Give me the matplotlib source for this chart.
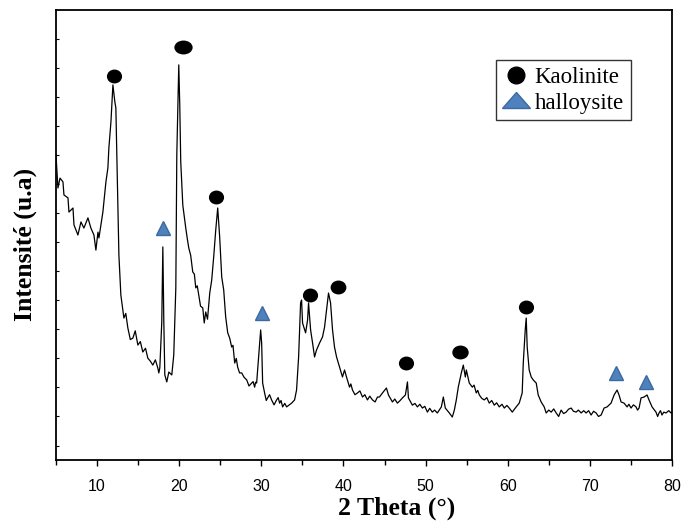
import matplotlib
matplotlib.use("Agg")
import matplotlib.pyplot as plt
from matplotlib.markers import MarkerStyle
from matplotlib.transforms import Affine2D
from matplotlib.lines import Line2D

# XRD pattern (2 theta in degrees, intensity in a.u.)
two_theta = [
    5.00, 5.24, 5.49, 5.85, 5.97, 6.46, 6.58, 7.07, 7.19, 7.67, 8.04, 8.40, 8.89, 9.25, 9.62,
    9.86, 10.11, 10.23, 10.71, 11.08, 11.32, 11.44, 11.69, 11.93, 12.17, 12.29, 12.41, 12.54,
    12.66, 12.90, 13.27, 13.50, 13.75, 14.05, 14.36, 14.65, 14.97, 15.27, 15.57, 15.90, 16.18,
    16.50, 16.79, 17.10, 17.40, 17.52, 17.64, 17.88, 18.01,
    18.13, 18.25, 18.49, 18.74, 19.10, 19.34, 19.59, 19.71, 19.95, 20.07, 20.19, 20.44, 20.80,
    21.00, 21.17, 21.40, 21.65, 21.85, 22.02, 22.20, 22.38, 22.60, 22.87, 23.05, 23.23, 23.45,
    23.72, 23.96, 24.20, 24.45, 24.69, 24.93, 25.18,
    25.42, 25.66, 25.91, 26.15, 26.39, 26.55, 26.76, 26.95, 27.12, 27.35, 27.61, 27.90, 28.22,
    28.50, 28.82, 29.00, 29.19, 29.30, 29.43, 29.67, 29.92,
    30.04, 30.16, 30.40, 30.60, 30.77, 31.00, 31.25, 31.55, 31.86, 32.05, 32.23, 32.40, 32.59,
    32.85, 33.08, 33.40, 33.69, 34.05, 34.29, 34.54,
    34.78, 34.90, 35.02, 35.39, 35.63, 35.75, 36.00, 36.24, 36.48, 36.72, 37.09, 37.45, 37.70,
    37.94, 38.18, 38.43, 38.67, 38.91, 39.16, 39.52, 39.88, 40.13, 40.37, 40.74, 40.90, 41.10,
    41.40, 41.71, 42.00, 42.32, 42.60, 42.92, 43.20, 43.53, 43.85, 44.14, 44.38, 44.75, 45.23,
    45.48, 45.96, 46.25, 46.57, 46.90, 47.18, 47.54, 47.79,
    47.91, 48.39, 48.70, 49.00, 49.30, 49.61, 49.90, 50.22, 50.50, 50.82, 51.10, 51.43, 51.92,
    52.16, 52.40, 52.89, 53.25, 53.50,
    53.74, 53.98, 54.35, 54.59, 54.84, 54.96, 55.32, 55.69, 55.90, 56.17, 56.35, 56.54, 56.85,
    57.15, 57.45, 57.75, 58.05, 58.36, 58.65, 58.97, 59.30, 59.58, 59.90, 60.18, 60.55, 61.03,
    61.40, 61.76, 61.89, 62.13, 62.25, 62.37, 62.61, 62.86,
    63.10, 63.47, 63.71, 64.07, 64.44, 64.68, 65.00, 65.29, 65.60, 65.90, 66.20, 66.50, 66.80,
    67.11, 67.40, 67.72, 68.00, 68.33, 68.60, 68.94, 69.25, 69.54, 69.85, 70.15, 70.45, 70.76,
    71.05, 71.37, 71.73, 72.10, 72.58, 72.95, 73.31, 73.55, 73.80, 74.16, 74.53, 74.75, 75.01,
    75.30, 75.62, 75.80, 75.99, 76.23, 76.60, 76.96, 77.20, 77.57, 78.05, 78.25, 78.42, 78.60,
    78.78, 79.00, 79.27, 79.60, 79.88, 80.00,
]
intensity = [
    1051, 937, 971, 958, 913, 903, 854, 868, 810, 775, 820, 799, 834, 799, 775,
    723, 785, 765, 854, 958, 1006, 1075, 1164, 1292, 1233, 1213, 1051, 878,
    706, 568, 489, 505, 455, 415, 420, 445, 396, 408, 372, 385, 351,
    340, 327, 345, 317, 300, 317, 475, 734,
    475, 293, 269, 303, 293, 362, 593, 1051, 1361, 1223, 1027, 878, 799,
    760, 730, 705, 648, 640, 593, 600, 568, 530, 524, 472, 510, 485,
    575, 620, 699, 792, 868, 768, 630,
    586, 493, 438, 420, 389, 395, 334, 350, 320, 300, 300, 285, 276,
    255, 265, 270, 251, 268, 265, 355, 448,
    403, 265, 231, 205, 214, 225, 207, 190, 207, 215, 196, 205, 183,
    195, 183, 190, 196, 207, 241, 355,
    541, 551, 472, 438, 482, 541, 448, 403, 355, 379, 403, 424, 458,
    517, 575, 541, 448, 389, 355, 320, 286, 310, 286, 251, 262, 241,
    225, 231, 238, 217, 225, 207, 220, 207, 200, 217, 217, 231, 248,
    224, 200, 210, 196, 205, 214, 224, 269,
    214, 189, 195, 183, 192, 179, 185, 165, 178, 165, 172, 162, 183,
    217, 179, 162, 148, 172,
    207, 251, 300, 327, 286, 310, 265, 251, 258, 231, 240, 224, 212,
    207, 215, 196, 205, 189, 197, 183, 192, 179, 188, 179, 165, 183,
    196, 231, 334, 448, 489, 389, 310, 286,
    276, 265, 224, 200, 183, 162, 172, 165, 176, 162, 150, 172, 160,
    165, 175, 179, 168, 165, 172, 162, 170, 162, 170, 155, 168, 162,
    150, 155, 179, 183, 196, 224, 241, 224, 200, 196, 183, 192, 179,
    190, 183, 172, 179, 214, 217, 224, 207, 183, 165, 150, 162, 170,
    155, 165, 162, 170, 162, 165,
]

# phase markers above the peaks
kaolinite_x = [12.05, 20.44, 24.45, 35.87, 39.28, 47.67, 54.23, 62.25]
kaolinite_y = [1323, 1423, 906, 568, 596, 334, 372, 527]
halloysite_x = [18.01, 30.04, 73.19, 76.84]
halloysite_y = [799, 506, 300, 269]

blue = "#4f81bd"
blue_edge = "#3b6aa0"
# the dots are drawn slightly wider than tall, the one at 20 deg more so
dot_stretch = [1.1, 1.35, 1.1, 1.1, 1.15, 1.1, 1.2, 1.1]

fig = plt.figure(figsize=(6.81, 5.24), dpi=100)
ax = fig.add_axes([0.0822, 0.1221, 0.9046, 0.8588])

ax.plot(two_theta, intensity, color="black", lw=0.9)

for xk, yk, st in zip(kaolinite_x, kaolinite_y, dot_stretch):
    m = MarkerStyle("o", transform=Affine2D().scale(st, 1.0))
    ax.plot([xk], [yk], ls="none", marker=m, ms=9, color="black")
ax.plot(halloysite_x, halloysite_y, ls="none", marker="^", ms=10,
        mfc=blue, mec=blue_edge, mew=1)

ax.set_xlim(5, 80)
ax.set_ylim(0, 1550)
ax.set_xticks(range(10, 81, 10))
ax.set_xticks(range(5, 81, 5), minor=True)
ax.set_yticks(range(50, 1500, 100))
ax.set_yticklabels([])

ax.tick_params(axis="x", which="major", direction="out", length=4, width=1,
               pad=10, labelsize=11.5)
ax.tick_params(axis="x", which="minor", direction="out", length=3.5, width=1)
ax.tick_params(axis="y", direction="in", length=2.5, width=0.8)
for lab in ax.get_xticklabels():
    lab.set_fontfamily("Liberation Sans")
for s in ax.spines.values():
    s.set_linewidth(1.3)

ax.set_xlabel("2 Theta (°)", fontfamily="Liberation Serif", fontweight="bold",
              fontsize=18.5)
ax.xaxis.set_label_coords(0.553, -0.082)
ax.set_ylabel("Intensité (u.a)", fontfamily="Liberation Serif", fontweight="bold",
              fontsize=18.5)
ax.yaxis.set_label_coords(-0.031, 0.478)

tri = MarkerStyle("^", transform=Affine2D().scale(1.8, 1.0))
handles = [
    Line2D([], [], ls="none", marker="o", ms=12, color="black"),
    Line2D([], [], ls="none", marker=tri, ms=11, mfc=blue, mec=blue_edge, mew=1),
]
leg = ax.legend(handles, ["Kaolinite", "halloysite"], loc="upper left",
                bbox_to_anchor=(0.714, 0.889), borderaxespad=0,
                prop={"family": "Liberation Serif", "size": 16.5},
                frameon=True, fancybox=False, edgecolor="black",
                handlelength=1.2, handletextpad=0.2, labelspacing=0.2,
                borderpad=0.3)
leg.get_frame().set_linewidth(1.0)

fig.savefig("out.png", dpi=100)
